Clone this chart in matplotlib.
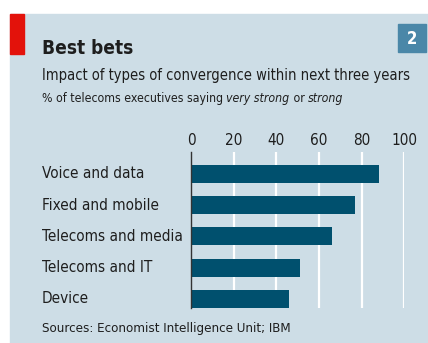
import matplotlib
matplotlib.use("Agg")
import matplotlib.pyplot as plt
import matplotlib.transforms as mtrans
from matplotlib.patches import Rectangle

categories = ["Voice and data", "Fixed and mobile", "Telecoms and media", "Telecoms and IT", "Device"]
values = [88, 77, 66, 51, 46]
ticks = [0, 20, 40, 60, 80, 100]

plt.rcParams['font.family'] = ['DejaVu Sans']
plt.rcParams['font.stretch'] = 'condensed'

W, H = 428, 343
fig = plt.figure(figsize=(W/100, H/100), dpi=100)
fig.patch.set_facecolor("white")
BG = "#cddde6"
BAR = "#00506e"
TXT = "#1e1e1e"

def fx(x): return x / W
def fy(y): return 1 - y / H

fig.canvas.draw()
R = fig.canvas.get_renderer()

def fit(t, target, maxsize):
    t.set_fontsize(maxsize)
    w = t.get_window_extent(renderer=R).width
    if w > target:
        t.set_fontsize(maxsize * target / w)
    return t

fig.add_artist(Rectangle((fx(10), 0), 1 - fx(10), fy(14), transform=fig.transFigure, color=BG, zorder=0))
fig.add_artist(Rectangle((fx(10), fy(54)), fx(14), (54-14)/H, transform=fig.transFigure, color="#e3120b", zorder=1))
fig.add_artist(Rectangle((fx(398), fy(52)), fx(28), (52-24)/H, transform=fig.transFigure, color="#4a87a8", zorder=1))
fig.text(fx(412), fy(38.5), "2", color="white", fontsize=12, fontweight="bold", ha="center", va="center")

fit(fig.text(fx(42), fy(54), "Best bets", fontweight="bold", color=TXT, va="baseline"), 91, 18)
fit(fig.text(fx(42), fy(80), "Impact of types of convergence within next three years", color=TXT, va="baseline"), 364, 13)

# mixed italic line
parts = [("% of telecoms executives saying ", "normal"), ("very strong", "italic"), (" or ", "normal"), ("strong", "italic")]
fs3 = 10
tmp = [fig.text(0, 0, s, fontsize=fs3, style=st) for s, st in parts]
tot = sum(t.get_window_extent(renderer=R).width for t in tmp)
for t in tmp:
    t.remove()
if tot > 300:
    fs3 = fs3 * 300 / tot
x = fx(42)
for s, st in parts:
    t = fig.text(x, fy(102), s, fontsize=fs3, style=st, color=TXT, va="baseline")
    x += t.get_window_extent(renderer=R).width / W

fit(fig.text(fx(42), fy(332), "Sources: Economist Intelligence Unit; IBM", color=TXT, va="baseline"), 257, 9.5)

ax = fig.add_axes([fx(191), fy(308), (404.3-191)/W, (308-152)/H])
ax.set_facecolor("none")
ypos = list(range(len(categories)))
ax.barh(ypos, values, height=0.58, color=BAR, zorder=3)
ax.set_xlim(0, 100)
ax.set_ylim(4.29, -0.7)
ax.set_xticks(ticks)
ax.set_xticklabels([str(t) for t in ticks])
ax.xaxis.tick_top()
ax.tick_params(axis="x", length=0, pad=3, labelsize=11, colors=TXT)
ax.set_yticks([])
trans = mtrans.blended_transform_factory(fig.transFigure, ax.transData)
cat_texts = [ax.text(fx(42), i, c, transform=trans, color=TXT, va="center", ha="left", clip_on=False)
             for i, c in enumerate(categories)]
fit(cat_texts[2], 141, 12.5)
for t in cat_texts:
    t.set_fontsize(cat_texts[2].get_fontsize())
for t in ticks[1:]:
    ax.axvline(t, color="white", lw=1.6, zorder=1)
for s in ["top", "right", "bottom"]:
    ax.spines[s].set_visible(False)
ax.spines["left"].set_color("#333333")
ax.spines["left"].set_linewidth(1)
ax.spines["left"].set_zorder(4)

fig.savefig("out.png", dpi=100, facecolor=fig.get_facecolor())
